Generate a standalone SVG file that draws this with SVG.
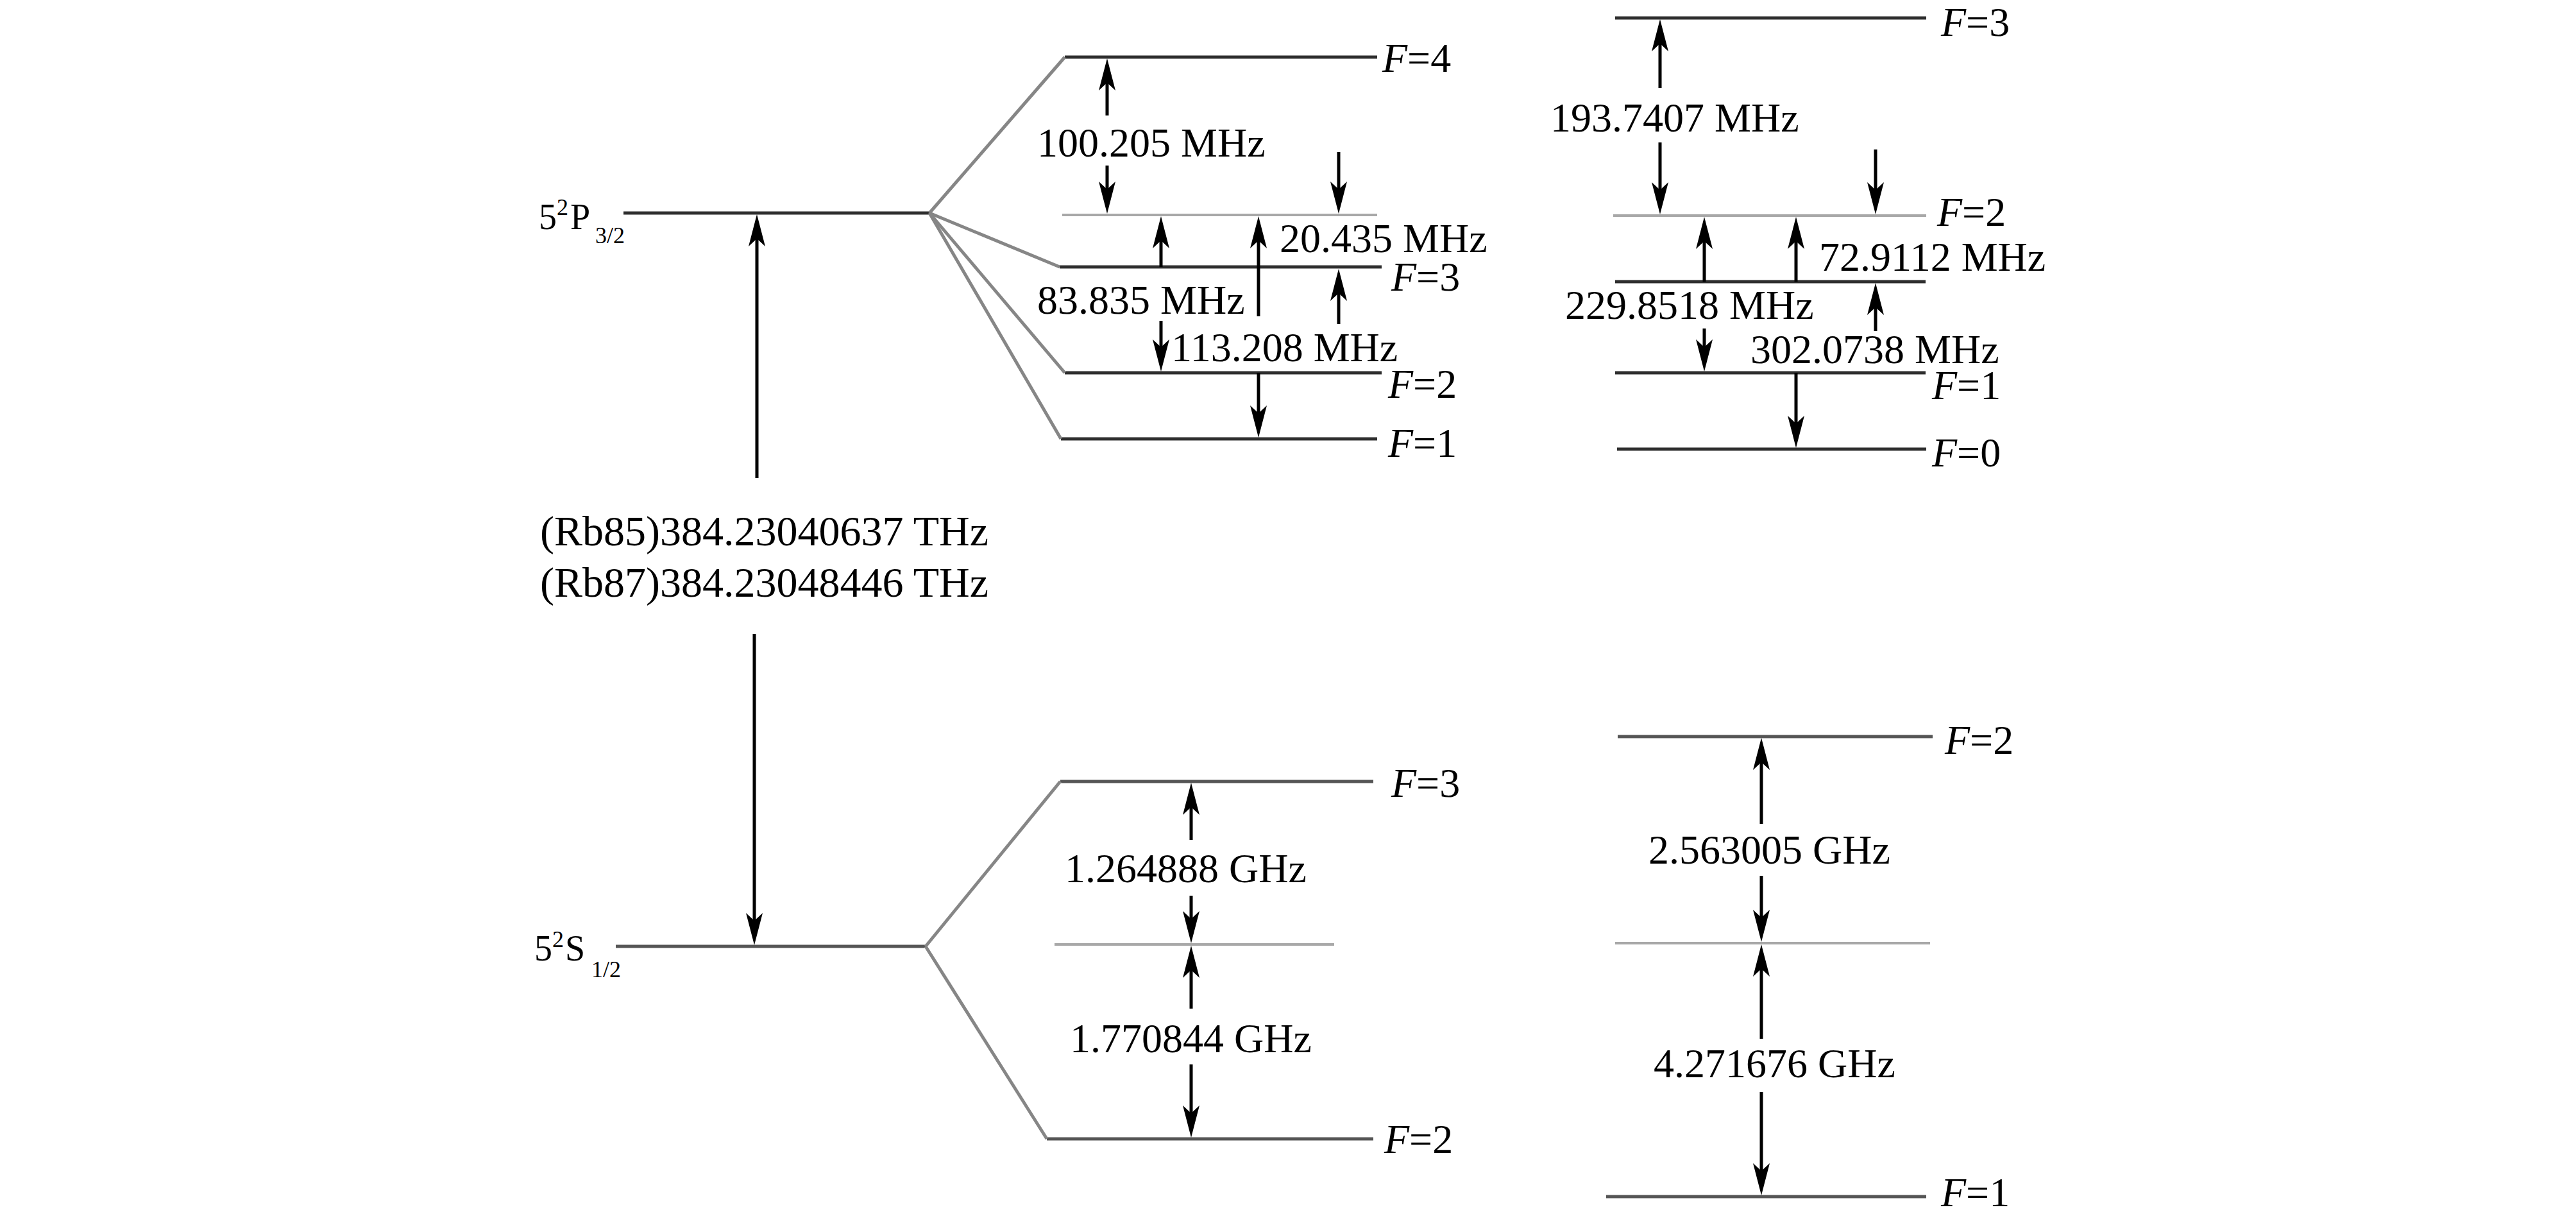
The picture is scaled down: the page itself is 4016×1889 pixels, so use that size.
<svg xmlns="http://www.w3.org/2000/svg" width="4016" height="1889" viewBox="0 0 4016 1889">
<style>
text{font-family:"Liberation Serif","Times New Roman",serif;fill:#000;}
.lbl{font-size:64px;}
.big{font-size:66px;}
.st{font-size:56px;}
.sm{font-size:36px;}
.it{font-style:italic;}
.lv{stroke:#2e2e2e;stroke-width:5;fill:none;}
.lv2{stroke:#555;stroke-width:5;fill:none;}
.ref{stroke:#a8a8a8;stroke-width:4;fill:none;}
.sp{stroke:#868686;stroke-width:5;fill:none;}
.ar{stroke:#000;stroke-width:5;fill:none;marker-end:url(#ah);}
</style>
<defs>
<marker id="ah" markerUnits="userSpaceOnUse" viewBox="-50 -13 50 26" markerWidth="50" markerHeight="26" refX="-25" refY="0" orient="auto">
<path d="M0,0 L-50,-13 L-38,0 L-50,13 Z" fill="#000"/>
</marker>
</defs>
<rect width="4016" height="1889" fill="#fff"/>

<g id="P32">
<line class="lv" x1="972" y1="332" x2="1451" y2="332"/>
<text class="st" x="840" y="357">5</text>
<text class="sm" x="868" y="335">2</text>
<text class="st" x="889" y="357">P</text>
<text class="sm" x="928" y="379">3/2</text>
</g>
<g id="P-F4"><line class="lv" x1="1660" y1="89" x2="2147" y2="89"/><text class="lbl" x="2155" y="112"><tspan class="it">F</tspan>=4</text></g>
<g id="P-center"><line class="ref" x1="1656" y1="335" x2="2147" y2="335"/></g>
<g id="P-F3"><line class="lv" x1="1652" y1="416" x2="2154" y2="416"/><text class="lbl" x="2169" y="453"><tspan class="it">F</tspan>=3</text></g>
<g id="P-F2"><line class="lv" x1="1660" y1="581" x2="2154" y2="581"/><text class="lbl" x="2164" y="620"><tspan class="it">F</tspan>=2</text></g>
<g id="P-F1"><line class="lv" x1="1654" y1="684" x2="2147" y2="684"/><text class="lbl" x="2164" y="712"><tspan class="it">F</tspan>=1</text></g>

<g id="P87-F3"><line class="lv" x1="2518" y1="28" x2="3003" y2="28"/><text class="lbl" x="3026" y="56"><tspan class="it">F</tspan>=3</text></g>
<g id="P87-F2"><line class="ref" x1="2515" y1="336" x2="3003" y2="336"/><text class="lbl" x="3020" y="352"><tspan class="it">F</tspan>=2</text></g>
<g id="P87-mid"><line class="lv" x1="2518" y1="439" x2="3002" y2="439"/></g>
<g id="P87-F1"><line class="lv" x1="2518" y1="581" x2="3002" y2="581"/><text class="lbl" x="3012" y="622"><tspan class="it">F</tspan>=1</text></g>
<g id="P87-F0"><line class="lv" x1="2521" y1="700" x2="3003" y2="700"/><text class="lbl" x="3012" y="727"><tspan class="it">F</tspan>=0</text></g>

<g id="transition">
<text class="big" x="842" y="850">(Rb85)384.23040637 THz</text>
<text class="big" x="842" y="930">(Rb87)384.23048446 THz</text>
</g>

<g id="S12">
<line class="lv2" x1="960" y1="1475" x2="1443" y2="1475"/>
<text class="st" x="833" y="1497">5</text>
<text class="sm" x="861" y="1476">2</text>
<text class="st" x="881" y="1497">S</text>
<text class="sm" x="922" y="1523">1/2</text>
</g>
<g id="S-F3"><line class="lv2" x1="1653" y1="1218" x2="2141" y2="1218"/><text class="lbl" x="2169" y="1242"><tspan class="it">F</tspan>=3</text></g>
<g id="S-center"><line class="ref" x1="1644" y1="1472" x2="2080" y2="1472"/></g>
<g id="S-F2"><line class="lv2" x1="1632" y1="1775" x2="2141" y2="1775"/><text class="lbl" x="2158" y="1797"><tspan class="it">F</tspan>=2</text></g>

<g id="S87-F2"><line class="lv2" x1="2522" y1="1148" x2="3013" y2="1148"/><text class="lbl" x="3032" y="1175"><tspan class="it">F</tspan>=2</text></g>
<g id="S87-center"><line class="ref" x1="2518" y1="1470" x2="3009" y2="1470"/></g>
<g id="S87-F1"><line class="lv2" x1="2504" y1="1865" x2="3003" y2="1865"/><text class="lbl" x="3026" y="1880"><tspan class="it">F</tspan>=1</text></g>

<g id="labels">
<text class="lbl" x="1617" y="244">100.205 MHz</text>
<text class="lbl" x="1995" y="393">20.435 MHz</text>
<text class="lbl" x="1617" y="489">83.835 MHz</text>
<text class="lbl" x="1826" y="563">113.208 MHz</text>
<text class="lbl" x="2417" y="205">193.7407 MHz</text>
<text class="lbl" x="2836" y="422">72.9112 MHz</text>
<text class="lbl" x="2440" y="497">229.8518 MHz</text>
<text class="lbl" x="2729" y="566">302.0738 MHz</text>
<text class="lbl" x="1660" y="1375">1.264888 GHz</text>
<text class="lbl" x="1668" y="1640">1.770844 GHz</text>
<text class="lbl" x="2570" y="1346">2.563005 GHz</text>
<text class="lbl" x="2578" y="1679">4.271676 GHz</text>
</g>

<g id="connectors">
<line class="sp" x1="1449" y1="332" x2="1660" y2="89"/>
<line class="sp" x1="1449" y1="332" x2="1652" y2="416"/>
<line class="sp" x1="1449" y1="332" x2="1660" y2="581"/>
<line class="sp" x1="1449" y1="332" x2="1654" y2="684"/>
<line class="sp" x1="1443" y1="1475" x2="1653" y2="1218"/>
<line class="sp" x1="1443" y1="1475" x2="1632" y2="1775"/>

<line class="ar" x1="1726" y1="180" x2="1726" y2="116"/>
<line class="ar" x1="1726" y1="258" x2="1726" y2="308"/>
<line class="ar" x1="2087" y1="237" x2="2087" y2="308"/>
<line class="ar" x1="1810" y1="416" x2="1810" y2="362"/>
<line class="ar" x1="1962" y1="493" x2="1962" y2="362"/>
<line class="ar" x1="2087" y1="505" x2="2087" y2="444"/>
<line class="ar" x1="1810" y1="500" x2="1810" y2="554"/>
<line class="ar" x1="1962" y1="581" x2="1962" y2="657"/>

<line class="ar" x1="1180" y1="745" x2="1180" y2="359"/>
<line class="ar" x1="1176" y1="988" x2="1176" y2="1448"/>

<line class="ar" x1="2588" y1="137" x2="2588" y2="55"/>
<line class="ar" x1="2588" y1="222" x2="2588" y2="309"/>
<line class="ar" x1="2924" y1="233" x2="2924" y2="309"/>
<line class="ar" x1="2657" y1="439" x2="2657" y2="363"/>
<line class="ar" x1="2800" y1="439" x2="2800" y2="363"/>
<line class="ar" x1="2924" y1="516" x2="2924" y2="466"/>
<line class="ar" x1="2657" y1="512" x2="2657" y2="554"/>
<line class="ar" x1="2800" y1="581" x2="2800" y2="673"/>

<line class="ar" x1="1857" y1="1309" x2="1857" y2="1245"/>
<line class="ar" x1="1857" y1="1396" x2="1857" y2="1445"/>
<line class="ar" x1="1857" y1="1572" x2="1857" y2="1499"/>
<line class="ar" x1="1857" y1="1659" x2="1857" y2="1748"/>

<line class="ar" x1="2746" y1="1284" x2="2746" y2="1175"/>
<line class="ar" x1="2746" y1="1365" x2="2746" y2="1443"/>
<line class="ar" x1="2746" y1="1619" x2="2746" y2="1497"/>
<line class="ar" x1="2746" y1="1702" x2="2746" y2="1838"/>
</g>
</svg>
